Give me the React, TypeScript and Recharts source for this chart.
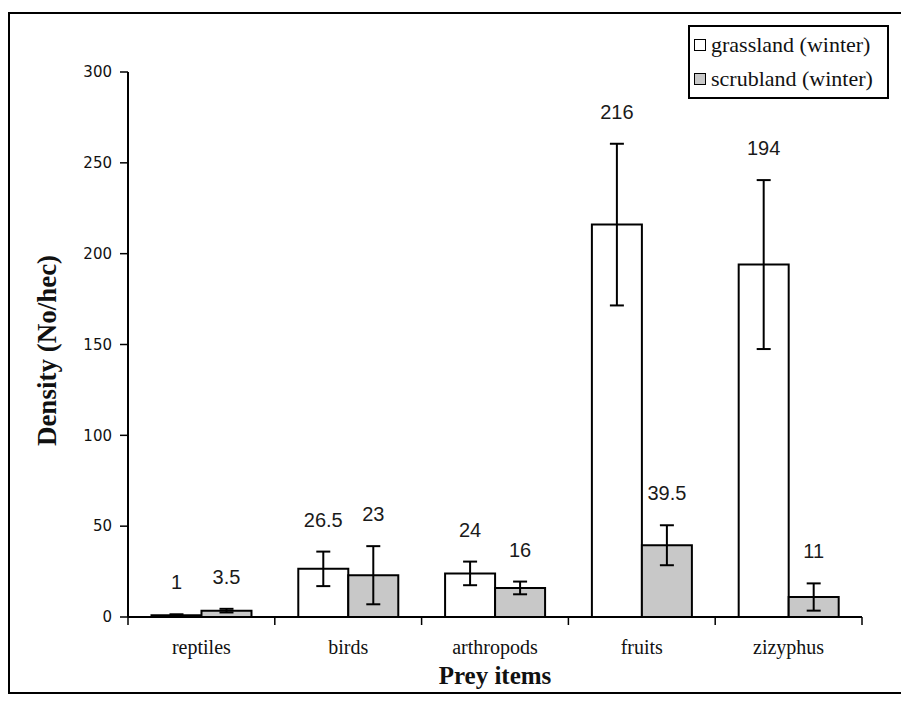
import React from "react"
import {
  BarChart,
  Bar,
  XAxis,
  YAxis,
  ErrorBar,
  LabelList,
} from "recharts"

const categories = ["reptiles", "birds", "arthropods", "fruits", "zizyphus"]
const grassland = [1, 26.5, 24, 216, 194]
const scrubland = [3.5, 23, 16, 39.5, 11]
const grasslandErr = [0.5, 9.5, 6.5, 44.5, 46.5]
const scrublandErr = [1, 16, 3.5, 11, 7.5]
const yTicks = [0, 50, 100, 150, 200, 250, 300]

const data = categories.map((c, i) => ({
  name: c,
  grassland: grassland[i],
  scrubland: scrubland[i],
  gErr: grasslandErr[i],
  sErr: scrublandErr[i],
}))

const W = 893
const H = 698
const margin = { top: 64, right: 39, bottom: 29, left: 60 }
const plotW = W - margin.left - margin.right - 60
const band = plotW / categories.length

const serif = "'Liberation Serif', 'Times New Roman', serif"
const sans = "'Liberation Sans', Arial, sans-serif"

function makeValueLabel(errs: number[]) {
  return (props: any) => {
    const { x, y, width, height, value, index } = props
    const i = typeof index === "number" ? index : 0
    const perUnit = value ? height / value : 0
    const top = y - errs[i] * perUnit
    return (
      <text
        x={x + width / 2}
        y={top - 25}
        textAnchor="middle"
        fontFamily={sans}
        fontSize={20}
        fill="#1a1a1a"
      >
        {value}
      </text>
    )
  }
}

function CategoryTick(props: any) {
  const { x, y, payload, index } = props
  const last = index === categories.length - 1
  return (
    <g>
      <line x1={x - band / 2} y1={y} x2={x - band / 2} y2={y + 8} stroke="#000" strokeWidth={1.5} />
      {last && (
        <line x1={x + band / 2} y1={y} x2={x + band / 2} y2={y + 8} stroke="#000" strokeWidth={1.5} />
      )}
      <text x={x} y={y + 37} textAnchor="middle" fontFamily={serif} fontSize={20} fill="#111">
        {payload.value}
      </text>
    </g>
  )
}

function LegendBox() {
  const row = (label: string, fill: string) => (
    <div style={{ display: "flex", alignItems: "center", height: 34 }}>
      <span
        style={{
          display: "inline-block",
          width: 10,
          height: 10,
          border: "1.5px solid #000",
          background: fill,
          marginRight: 5,
        }}
      />
      <span style={{ fontFamily: serif, fontSize: 22, color: "#111", whiteSpace: "nowrap" }}>
        {label}
      </span>
    </div>
  )
  return (
    <div
      style={{
        position: "absolute",
        top: 17,
        left: 680,
        border: "2px solid #000",
        padding: "1px 4px",
        background: "#fff",
        width: 189,
      }}
    >
      {row("grassland (winter)", "#fff")}
      {row("scrubland (winter)", "#c8c8c8")}
    </div>
  )
}

export default function App() {
  return (
    <div style={{ position: "relative", width: W, height: H }}>
      <div
        style={{
          position: "absolute",
          left: 0,
          top: 4,
          width: W + 4,
          height: 682,
          borderLeft: "2px solid #000",
          borderTop: "2px solid #000",
          borderBottom: "2px solid #000",
          boxSizing: "border-box",
        }}
      />
      <BarChart
        width={W}
        height={H}
        data={data}
        margin={margin}
        barCategoryGap="16%"
        barGap={0}
        style={{ position: "absolute", left: 0, top: 0 }}
      >
        <XAxis
          dataKey="name"
          axisLine={{ stroke: "#000", strokeWidth: 2 }}
          tickLine={false}
          tickSize={0}
          tickMargin={0}
          height={60}
          tick={<CategoryTick />}
          interval={0}
          label={{
            content: (p: any) => {
              const vb = p.viewBox || {}
              return (
                <text
                  x={vb.x + vb.width / 2}
                  y={vb.y + 67}
                  textAnchor="middle"
                  fontFamily={serif}
                  fontWeight="bold"
                  fontSize={25}
                  fill="#111"
                >
                  Prey items
                </text>
              )
            },
          }}
        />
        <YAxis
          domain={[0, 300]}
          ticks={yTicks}
          interval={0}
          width={60}
          axisLine={{ stroke: "#000", strokeWidth: 2 }}
          tickLine={{ stroke: "#000", strokeWidth: 1.5 }}
          tickSize={8}
          tickMargin={8}
          tick={{ fontFamily: "'DejaVu Sans', sans-serif", fontSize: 15, fill: "#111" }}
          label={{
            content: (p: any) => {
              const vb = p.viewBox || {}
              const cx = vb.x - 18
              const cy = vb.y + vb.height / 2 + 6
              return (
                <text
                  x={cx}
                  y={cy}
                  transform={`rotate(-90, ${cx}, ${cy})`}
                  textAnchor="middle"
                  dominantBaseline="middle"
                  fontFamily={serif}
                  fontWeight="bold"
                  fontSize={27}
                  fill="#111"
                >
                  Density (No/hec)
                </text>
              )
            },
          }}
        />
        <Bar
          dataKey="grassland"
          name="grassland (winter)"
          fill="#ffffff"
          stroke="#000"
          strokeWidth={2}
          isAnimationActive={false}
        >
          <ErrorBar dataKey="gErr" width={7} stroke="#000" strokeWidth={2} />
          <LabelList dataKey="grassland" content={makeValueLabel(grasslandErr)} />
        </Bar>
        <Bar
          dataKey="scrubland"
          name="scrubland (winter)"
          fill="#c8c8c8"
          stroke="#000"
          strokeWidth={2}
          isAnimationActive={false}
        >
          <ErrorBar dataKey="sErr" width={7} stroke="#000" strokeWidth={2} />
          <LabelList dataKey="scrubland" content={makeValueLabel(scrublandErr)} />
        </Bar>
      </BarChart>
      <LegendBox />
    </div>
  )
}
